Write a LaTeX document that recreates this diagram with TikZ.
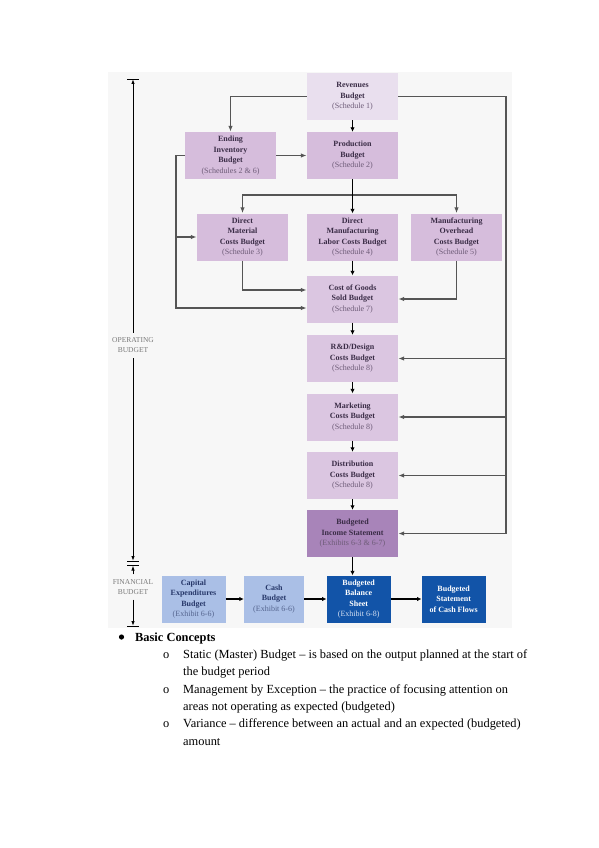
\documentclass[tikz,border=0pt]{standalone}
\usepackage{fontspec}
\setmainfont{Liberation Serif}
\usetikzlibrary{arrows.meta}
\usetikzlibrary{positioning}

\definecolor{revfill}{HTML}{E9DFEE}
\definecolor{lavfill}{HTML}{D6BDDC}
\definecolor{costfill}{HTML}{DBC6E1}
\definecolor{incfill}{HTML}{A884B9}
\definecolor{ltbluefill}{HTML}{AABFE6}
\definecolor{dkbluefill}{HTML}{1254A8}
\definecolor{lavtext}{HTML}{3A2C46}
\definecolor{lavsched}{HTML}{6E5C78}
\definecolor{ltbluetext}{HTML}{27386A}
\definecolor{ltbluesched}{HTML}{55658F}
\definecolor{dkbluesched}{HTML}{D5E0F2}
\definecolor{feedgray}{HTML}{555555}
\definecolor{axisgray}{HTML}{7A7A7A}

\newcommand{\sched}[1]{{\mdseries\color{schedcol}#1}}

\begin{document}
\begin{tikzpicture}[x=1pt,y=-1pt,
    budget/.style={minimum width=91pt, minimum height=47pt, inner sep=1pt,
        align=center, font=\fontsize{8}{10.5}\selectfont\bfseries},
    lavbox/.style={budget, fill=lavfill, text=lavtext,
        execute at begin node=\colorlet{schedcol}{lavsched}},
    finbox/.style={budget, minimum width=64pt, fill=ltbluefill, text=ltbluetext,
        execute at begin node=\colorlet{schedcol}{ltbluesched}},
    dkbox/.style={budget, minimum width=64pt, fill=dkbluefill, text=white,
        execute at begin node=\colorlet{schedcol}{dkbluesched}},
    feed/.style={draw=feedgray, line width=1.2pt, -{Latex[length=6pt,width=4.5pt]}},
    main/.style={draw=black, line width=1.5pt, -{Latex[length=4.5pt,width=4.5pt]}},
    axis/.style={draw=black, line width=0.9pt, -{Latex[length=5pt,width=3.5pt]}},
    axislabel/.style={align=center, inner xsep=1pt, inner ysep=5pt, text=axisgray,
        font=\fontsize{7.5}{10}\selectfont},
    bodytext/.style={anchor=base west, inner sep=0pt, font=\fontsize{12.4}{14}\selectfont}]

    \useasboundingbox (0,0) rectangle (599,848);
    \fill[white] (0,0) rectangle (599,848);
    \fill[black!3] (108,72) rectangle (512,628);

    % operating budget
    \node[lavbox, fill=revfill] (rev) at (352.5,96.5) {Revenues\\Budget\\\sched{(Schedule 1)}};
    \node[lavbox] (prod) at (352.5,155.5) {Production\\Budget\\\sched{(Schedule 2)}};
    \node[lavbox] (inv) at (230.5,155.5) {Ending\\Inventory\\Budget\\\sched{(Schedules 2 \& 6)}};
    \node[lavbox] (dm) at (242.5,237) {Direct\\Material\\Costs Budget\\\sched{(Schedule 3)}};
    \node[lavbox] (dml) at (352.5,237) {Direct\\Manufacturing\\Labor Costs Budget\\\sched{(Schedule 4)}};
    \node[lavbox] (moh) at (456.5,237) {Manufacturing\\Overhead\\Costs Budget\\\sched{(Schedule 5)}};
    \node[lavbox, fill=costfill] (cogs) at (352.5,299) {Cost of Goods\\Sold Budget\\\sched{(Schedule 7)}};
    \node[lavbox, fill=costfill] (rd) at (352.5,358.5) {R\&D/Design\\Costs Budget\\\sched{(Schedule 8)}};
    \node[lavbox, fill=costfill] (mkt) at (352.5,417) {Marketing\\Costs Budget\\\sched{(Schedule 8)}};
    \node[lavbox, fill=costfill] (dist) at (352.5,475.5) {Distribution\\Costs Budget\\\sched{(Schedule 8)}};
    \node[lavbox, fill=incfill] (inc) at (352.5,533.5) {Budgeted\\Income Statement\\\sched{(Exhibits 6-3 \& 6-7)}};

    % financial budget
    \node[finbox] (cap) at (193.5,599) {Capital\\Expenditures\\Budget\\\sched{(Exhibit 6-6)}};
    \node[finbox, minimum width=60pt] (cash) at (274,599) {Cash\\Budget\\\sched{(Exhibit 6-6)}};
    \node[dkbox] (bal) at (358.7,599) {Budgeted\\Balance\\Sheet\\\sched{(Exhibit 6-8)}};
    \node[dkbox] (scf) at (453.7,599) {Budgeted\\Statement\\of Cash Flows};

    \coordinate (rbus) at (506,96.5);
    \coordinate (lbus) at (176,155.5);
    \coordinate (pbus) at (352.5,195);

    \draw[feed] (rev.west) -| (inv.north);
    \draw[feed] (inv.east) -- (prod.west);
    \draw[feed] (rev.east) -- (rbus) |- (inc.east);
    \draw[feed] (rbus |- rd.east) -- (rd.east);
    \draw[feed] (rbus |- mkt.east) -- (mkt.east);
    \draw[feed] (rbus |- dist.east) -- (dist.east);
    \draw[feed] (inv.west) -- (lbus) |- ([yshift=-9pt]cogs.west);
    \draw[feed] (lbus |- dm.west) -- (dm.west);
    \draw[feed] (pbus) -| (dm.north);
    \draw[feed] (pbus) -| (moh.north);
    \draw[feed] (dm.south) |- ([yshift=9pt]cogs.west);
    \draw[feed] (moh.south) |- (cogs.east);

    \draw[main] (rev) -- (prod);
    \draw[main] (prod) -- (dml);
    \draw[main] (dml) -- (cogs);
    \draw[main] (cogs) -- (rd);
    \draw[main] (rd) -- (mkt);
    \draw[main] (mkt) -- (dist);
    \draw[main] (dist) -- (inc);
    \draw[main] (inc.south) -- (inc.south |- bal.north);
    \draw[main] (cap) -- (cash);
    \draw[main] (cash) -- (bal);
    \draw[main] (bal) -- (scf);

    % budget axis on the left
    \node[axislabel] (oplab) at (133,345.5) {OPERATING\\BUDGET};
    \node[axislabel] (finlab) at (133,587) {FINANCIAL\\BUDGET};
    \coordinate (optop) at (133,79);
    \coordinate (opbot) at (133,561);
    \coordinate (fintop) at (133,565.5);
    \coordinate (finbot) at (133,626);
    \draw[axis] (oplab.north) -- (optop);
    \draw[axis] (oplab.south) -- (opbot);
    \draw[axis] (finlab.north) -- (fintop);
    \draw[axis] (finlab.south) -- (finbot);
    \foreach \c in {optop,opbot,fintop,finbot}
        \draw[black, line width=0.9pt] ([xshift=-6pt]\c) -- ([xshift=6pt]\c);

    % notes below
    \fill (121.5,637) circle (2.6pt);
    \node[bodytext] (head) at (135,641) {\textbf{Basic Concepts}};
    \node[bodytext] (o1) at (163,658.5) {o};
    \node[bodytext] (t1) at (183,658.5) {Static (Master) Budget -- is based on the output planned at the start of};
    \node[bodytext] (t1b) at (183,675.8) {the budget period};
    \node[bodytext] (o2) at (163,693) {o};
    \node[bodytext] (t2) at (183,693) {Management by Exception -- the practice of focusing attention on};
    \node[bodytext] (t2b) at (183,710.3) {areas not operating as expected (budgeted)};
    \node[bodytext] (o3) at (163,727.6) {o};
    \node[bodytext] (t3) at (183,727.6) {Variance -- difference between an actual and an expected (budgeted)};
    \node[bodytext] (t3b) at (183,745) {amount};

\end{tikzpicture}
\end{document}
